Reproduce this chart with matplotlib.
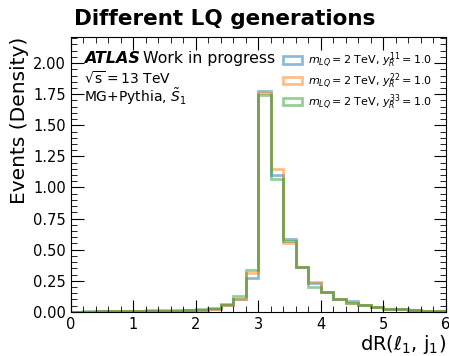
import numpy as np
import matplotlib
matplotlib.use("Agg")
from matplotlib import pyplot as plt
from matplotlib.patches import Patch
from matplotlib.ticker import MultipleLocator, FormatStrFormatter

# dR(l1, j1) binning, 0.2 wide bins from 0 to 6
edges = np.round(np.arange(0, 6.01, 0.2), 2)

yR11 = [0.0, 0.002, 0.003, 0.004, 0.005, 0.006, 0.007, 0.008, 0.010, 0.012,
        0.015, 0.025, 0.055, 0.10, 0.27, 1.775, 1.10, 0.585, 0.36, 0.23,
        0.16, 0.105, 0.09, 0.055, 0.04, 0.025, 0.02, 0.012, 0.008, 0.005]
yR22 = [0.0, 0.002, 0.003, 0.004, 0.005, 0.006, 0.007, 0.008, 0.010, 0.012,
        0.015, 0.025, 0.055, 0.10, 0.31, 1.76, 1.15, 0.55, 0.36, 0.24,
        0.16, 0.105, 0.075, 0.055, 0.04, 0.025, 0.02, 0.012, 0.008, 0.005]
yR33 = [0.0, 0.003, 0.004, 0.006, 0.008, 0.010, 0.012, 0.013, 0.015, 0.017,
        0.020, 0.030, 0.060, 0.13, 0.34, 1.74, 1.07, 0.57, 0.36, 0.20,
        0.16, 0.105, 0.075, 0.055, 0.04, 0.025, 0.02, 0.012, 0.008, 0.005]

labels = [r"$m_{LQ}=2$ TeV, $y_R^{11}=1.0$",
          r"$m_{LQ}=2$ TeV, $y_R^{22}=1.0$",
          r"$m_{LQ}=2$ TeV, $y_R^{33}=1.0$"]
colors = ["#1f77b4", "#ff7f0e", "#2ca02c"]

fig = plt.figure(figsize=(4.49, 3.56), dpi=100)
ax = fig.add_axes([0.158, 0.124, 0.835, 0.772])

for vals, c in zip([yR11, yR22, yR33], colors):
    ax.stairs(vals, edges, color=c, alpha=0.5, lw=2, baseline=0)

ax.set_xlim(0, 6)
ax.set_ylim(0, 2.21)
ax.xaxis.set_major_locator(MultipleLocator(1))
ax.xaxis.set_minor_locator(MultipleLocator(0.2))
ax.yaxis.set_major_locator(MultipleLocator(0.25))
ax.yaxis.set_minor_locator(MultipleLocator(0.05))
ax.yaxis.set_major_formatter(FormatStrFormatter("%.2f"))
ax.tick_params(which="both", direction="in", top=True, right=True, labelsize=10.5)
ax.tick_params(which="major", length=9)
ax.tick_params(which="minor", length=4.5)

ax.set_xlabel(r"dR($\ell_1$, j$_1$)", fontsize=14, loc="right", labelpad=1)
ax.set_ylabel("Events (Density)", fontsize=14.5, loc="top", labelpad=3)

ax.text(0.035, 0.95, "ATLAS", transform=ax.transAxes, fontsize=11.5,
        fontweight="bold", fontstyle="italic", va="top")
ax.text(0.193, 0.95, "Work in progress", transform=ax.transAxes, fontsize=11.3, va="top")
ax.text(0.035, 0.88, r"$\sqrt{\mathrm{s}}=13$ TeV", transform=ax.transAxes,
        fontsize=10, va="top")
ax.text(0.035, 0.82, r"MG+Pythia, $\tilde{S}_1$", transform=ax.transAxes,
        fontsize=10, va="top")

handles = [Patch(facecolor="none", edgecolor=c, alpha=0.5, lw=2) for c in colors]
ax.legend(handles, labels, loc="upper right", fontsize=8.0, frameon=False,
          handlelength=1.7, handletextpad=0.6, borderaxespad=0.8, labelspacing=0.12)

fig.suptitle("Different LQ generations", fontsize=15.5, fontweight="bold", x=0.5, y=0.975)

fig.savefig("out.png", dpi=100)
